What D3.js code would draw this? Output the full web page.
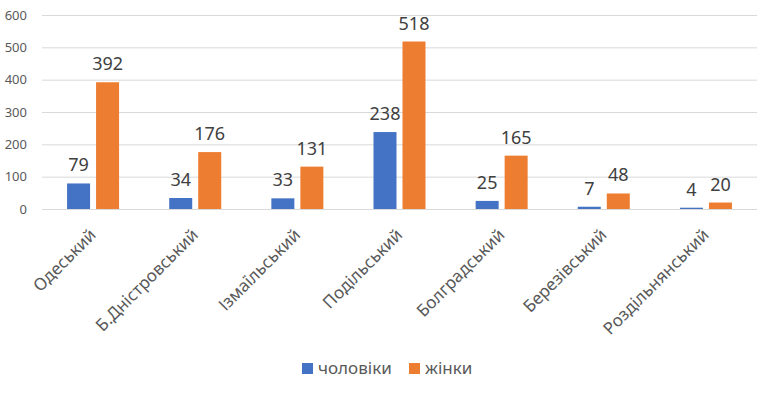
<!DOCTYPE html>
<html><head><meta charset="utf-8">
<script src="https://cdn.jsdelivr.net/npm/d3@7"></script>
<style>body{margin:0;background:#fff}svg{display:block;font-family:"Noto Sans",sans-serif}</style>
</head><body><svg id="c" width="769" height="394"></svg>
<script>
const categories = ["Одеський","Б.Дністровський","Ізмаїльський","Подільський","Болградський","Березівський","Роздільнянський"];
const men = [79,34,33,238,25,7,4];
const women = [392,176,131,518,165,48,20];
const seriesNames = ["чоловіки","жінки"];
const yTicks = [0,100,200,300,400,500,600];
const colors = ["#4472C4","#ED7D31"];

const svg = d3.select("#c");
const m = {l:42, r:12, t:15, b:185};
const x = d3.scaleBand().domain(categories).range([m.l, 757]).paddingInner(0).paddingOuter(0);
const y = d3.scaleLinear().domain([0,600]).range([209,15]);

svg.append("g").selectAll("line").data(yTicks).join("line")
  .attr("x1", m.l).attr("x2", 757).attr("y1", d=>y(d)+0.5).attr("y2", d=>y(d)+0.5)
  .attr("stroke", "#d9d9d9").attr("stroke-width", 1);

svg.append("g").selectAll("text").data(yTicks).join("text")
  .attr("x", 27).attr("y", d=>y(d)+4.5).attr("text-anchor","end")
  .attr("font-size", 13).attr("fill","#595959").text(d=>d);

const bw = 23, gap = 6;
const rows = categories.map((c,i)=>({c, vals:[men[i], women[i]]}));
const g = svg.append("g");
rows.forEach(r=>{
  const cx = x(r.c) + x.bandwidth()/2;
  r.vals.forEach((v,k)=>{
    const x0 = k===0 ? cx - gap/2 - bw : cx + gap/2;
    g.append("rect").attr("x", x0).attr("width", bw)
      .attr("y", y(v)).attr("height", y(0)-y(v)).attr("fill", colors[k]);
    g.append("text").attr("x", x0 + bw/2).attr("y", y(v) - 12)
      .attr("text-anchor","middle").attr("font-size", 18).attr("fill","#404040").text(v);
  });
});

svg.append("g").selectAll("text").data(categories).join("text")
  .attr("transform", d=>`translate(${x(d)+x.bandwidth()/2+4},${236}) rotate(-45)`)
  .attr("text-anchor","end").attr("font-size", 17).attr("fill","#595959").text(d=>d);

const leg = svg.append("g");
const lx = [302, 409];
seriesNames.forEach((s,k)=>{
  leg.append("rect").attr("x", lx[k]).attr("y", 363).attr("width", 11).attr("height", 11).attr("fill", colors[k]);
  leg.append("text").attr("x", lx[k]+16).attr("y", 374).attr("font-size", 17).attr("fill","#595959").text(s);
});
</script></body></html>
